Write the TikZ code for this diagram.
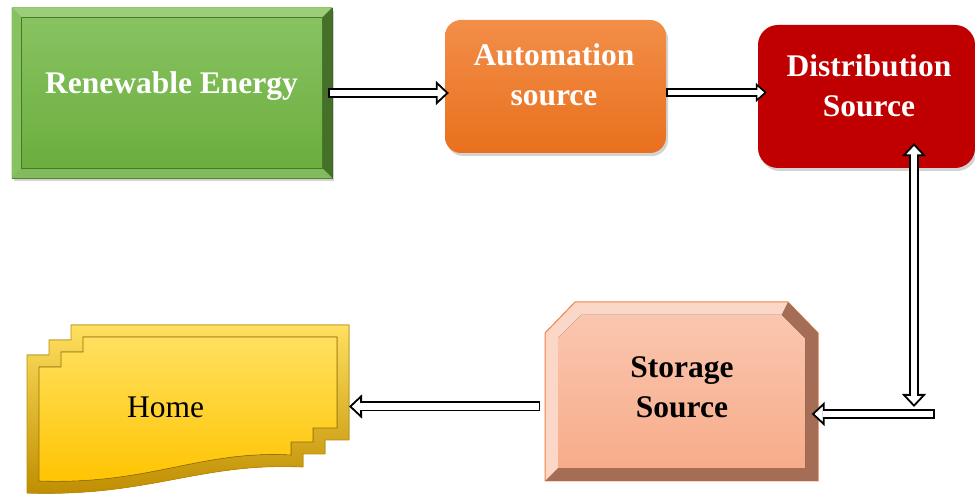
\documentclass[tikz,border=0pt]{standalone}
\usepackage{fontspec}
\setmainfont{Liberation Serif}
\usepackage{tikz}
\usetikzlibrary{arrows.meta, shadows, calc}

\definecolor{grnTop}{RGB}{137,196,99}
\definecolor{grnBot}{RGB}{106,172,60}
\definecolor{grnEdge}{RGB}{58,98,34}
\definecolor{orgTop}{RGB}{242,142,72}
\definecolor{orgBot}{RGB}{233,112,30}
\definecolor{distRed}{RGB}{192,0,0}
\definecolor{salTop}{RGB}{250,198,175}
\definecolor{salBot}{RGB}{247,172,138}
\definecolor{salEdge}{RGB}{240,130,70}
\definecolor{salDark}{RGB}{165,108,86}
\definecolor{ylwTop}{RGB}{255,224,95}
\definecolor{ylwBot}{RGB}{255,196,0}
\definecolor{ylwDark}{RGB}{190,140,0}

% bevel strips on a rectangular node: #1 node, #2 inset, #3-#6 top, right, bottom, left
\newcommand\bevelstrips[6]{%
  \path (#1.north west) coordinate (o1) (#1.north east) coordinate (o2)
        (#1.south east) coordinate (o3) (#1.south west) coordinate (o4)
        ([shift={(#2,-#2)}]#1.north west) coordinate (i1)
        ([shift={(-#2,-#2)}]#1.north east) coordinate (i2)
        ([shift={(-#2,#2)}]#1.south east) coordinate (i3)
        ([shift={(#2,#2)}]#1.south west) coordinate (i4);
  \fill[#3] (o1) -- (o2) -- (i2) -- (i1) -- cycle;
  \fill[#4] (o2) -- (o3) -- (i3) -- (i2) -- cycle;
  \fill[#5] (o3) -- (o4) -- (i4) -- (i3) -- cycle;
  \fill[#6] (o4) -- (o1) -- (i1) -- (i4) -- cycle;
  \draw[grnEdge!70!grnBot, line width=0.6pt] (i1) rectangle (i3);
}

\tikzset{
  boxshadow/.style={drop shadow={shadow xshift=2pt, shadow yshift=-3pt, opacity=0.35}},
  boxtext/.style={font=\fontsize{31.5}{40}\selectfont\bfseries, align=center, text=white, inner sep=0pt},
  headbig/.tip={Triangle[fill=white, length=13pt, width=24pt]},
  headsmall/.tip={Triangle[fill=white, length=11pt, width=19pt]},
  flow/.style={line width=1.8pt, -headbig,
    preaction={draw=black, line width=10pt, -, shorten >=11pt},
    postaction={draw=white, line width=6.4pt, -, shorten >=11pt, shorten <=1.8pt}},
  flowthin/.style={line width=1.6pt, -headsmall,
    preaction={draw=black, line width=8.6pt, -, shorten >=9pt},
    postaction={draw=white, line width=5.4pt, -, shorten >=9pt, shorten <=1.6pt}},
  flowboth/.style={line width=1.8pt, headbig-headbig,
    preaction={draw=black, line width=10pt, -, shorten >=11pt, shorten <=11pt},
    postaction={draw=white, line width=6.4pt, -, shorten >=11pt, shorten <=11pt}},
}

\begin{document}
\begin{tikzpicture}[x=1pt, y=1pt]
\useasboundingbox (0,0) rectangle (975,497);

% boxes of the top row
\node[boxshadow, minimum width=320, minimum height=170, draw=grnEdge, line width=0.8pt,
      top color=grnTop, bottom color=grnBot] (ren) at (172,404) {};
\bevelstrips{ren}{10}{grnTop!85!white}{grnEdge!80!grnBot}{grnTop!95!black}{grnTop!90!grnBot}
\node[boxshadow, minimum width=221, minimum height=133, rounded corners=16,
      top color=orgTop, bottom color=orgBot] (aut) at (555.5,410.5) {};
\node[boxshadow, minimum width=217, minimum height=143, rounded corners=20,
      fill=distRed] (dist) at (866.5,400.5) {};

% storage source
\filldraw[fill=salTop!70!white, draw=salEdge, line width=1pt]
  (545,164) -- (575,195) -- (788,195) -- (818,164) -- (818,16) -- (545,16) -- cycle;
\fill[salDark] (788,195) -- (818,164) -- (818,16) -- (545,16) -- (558,29) -- (805,29)
  -- (805,158.6) -- (781.6,182) -- cycle;
\fill[top color=salTop, bottom color=salBot]
  (558,158.6) -- (581.4,182) -- (781.6,182) -- (805,158.6) -- (805,29) -- (558,29) -- cycle;
\node[minimum width=259, minimum height=150, inner sep=0pt] (stor) at (682,98) {};

% home
\filldraw[top color=ylwTop, bottom color=ylwDark, draw=ylwDark, line width=0.8pt]
  (71,172) -- (349,172) -- (349,57) -- (325,57) -- (325,43) -- (303,43) -- (303,30)
  .. controls (200,35) and (150,0) .. (27,4) -- (27,142) -- (49,142) -- (49,157) -- (71,157) -- cycle;
\filldraw[top color=ylwTop, bottom color=ylwBot, draw=ylwDark!80!black, line width=0.6pt]
  (83,160) -- (337,160) -- (337,69) -- (313,69) -- (313,55) -- (291,55) -- (291,42)
  .. controls (200,47) and (150,12) .. (39,16) -- (39,130) -- (61,130) -- (61,145) -- (83,145) -- cycle;
\coordinate (home-e) at (349,90.5);

% texts
\node[boxtext] (ren-t) at (171.5,411) {Renewable Energy};
\node[boxtext] (aut-t) at (554,422) {Automation\\source};
\node[boxtext] (dist-t) at (869,411) {Distribution\\Source};
\node[boxtext, text=black] (stor-t) at (682,109.5) {Storage\\Source};
\node[boxtext, text=black, font=\fontsize{31.5}{40}\selectfont] (home-t) at (165.5,89.5) {Home};

% arrows
\coordinate (turn) at (935,83);
\draw[flow] ($(ren.east)+(-4,0)$) -- ($(aut.west |- ren.east)+(4,0)$);
\draw[flowthin] ($(aut.east)+(0,-6)$) -- ($(aut.east -| dist.west)+(9,-6)$);
\draw[flowboth] ($(dist.south)+(47.5,25)$) -- ($(turn)+(-21,7)$);
\draw[flow] (turn) -- (turn -| stor.east);
\draw[flow] ($(stor.west |- home-e)+(-12,0)$) -- (home-e);
\end{tikzpicture}
\end{document}
